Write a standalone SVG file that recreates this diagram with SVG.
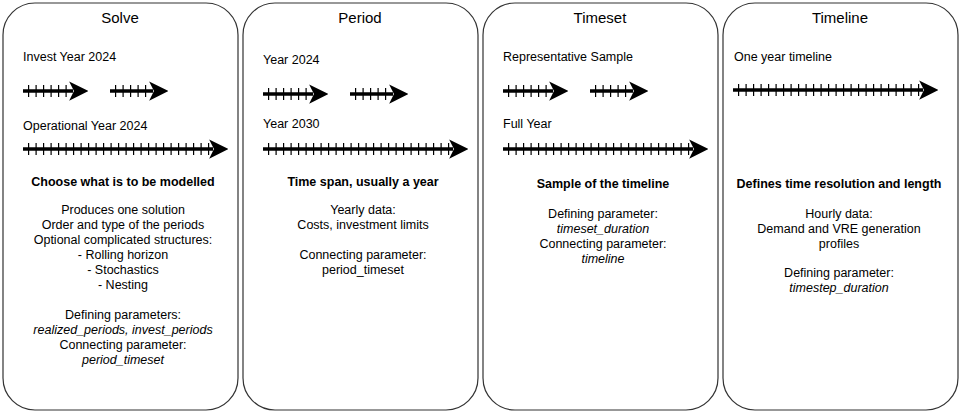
<svg xmlns="http://www.w3.org/2000/svg" width="960" height="415" viewBox="0 0 960 415">
<style>
.box{fill:#fff;stroke:#333;stroke-width:1.2}
text{font-family:"Liberation Sans",Arial,sans-serif;font-size:12.5px;fill:#000}
.t{font-size:15px;text-anchor:middle}
.c{text-anchor:middle}
.b{font-weight:bold}
.i{font-style:italic}
.ax{stroke:#000;stroke-width:3.5;marker-end:url(#ah)}
.tk{stroke:#000;stroke-width:12;stroke-dasharray:1.2 6.3}
</style>
<defs><marker id="ah" viewBox="0 0 10 10" refX="2" refY="5" markerWidth="5.5" markerHeight="5.5" markerUnits="strokeWidth" orient="auto"><path d="M0,0 L10,5 L0,10 L2.5,5z" fill="#000"/></marker></defs>
<rect width="960" height="415" fill="#fff"/>
<g id="solve"><rect class="box" x="3" y="3" width="235" height="407" rx="32"/>
<text class="t" x="120" y="23">Solve</text>
<text x="23" y="61">Invest Year 2024</text>
<text x="23" y="130">Operational Year 2024</text>
<text class="c b" x="123" y="186">Choose what is to be modelled</text>
<text class="c" x="123" y="214">Produces one solution</text>
<text class="c" x="123" y="229">Order and type of the periods</text>
<text class="c" x="123" y="244">Optional complicated structures:</text>
<text class="c" x="123" y="259">- Rolling horizon</text>
<text class="c" x="123" y="274">- Stochastics</text>
<text class="c" x="123" y="289">- Nesting</text>
<text class="c" x="123" y="319">Defining parameters:</text>
<text class="c i" x="123" y="334">realized_periods, invest_periods</text>
<text class="c" x="123" y="349">Connecting parameter:</text>
<text class="c i" x="123" y="364">period_timeset</text></g>
<g id="period"><rect class="box" x="243" y="3" width="235" height="407" rx="32"/>
<text class="t" x="360" y="23">Period</text>
<text x="263" y="64">Year 2024</text>
<text x="263" y="128">Year 2030</text>
<text class="c b" x="363" y="186">Time span, usually a year</text>
<text class="c" x="363" y="214">Yearly data:</text>
<text class="c" x="363" y="229">Costs, investment limits</text>
<text class="c" x="363" y="259">Connecting parameter:</text>
<text class="c" x="363" y="274">period_timeset</text></g>
<g id="timeset"><rect class="box" x="483" y="3" width="235" height="407" rx="32"/>
<text class="t" x="600" y="23">Timeset</text>
<text x="503" y="61">Representative Sample</text>
<text x="503" y="128">Full Year</text>
<text class="c b" x="603" y="188">Sample of the timeline</text>
<text class="c" x="603" y="218">Defining parameter:</text>
<text class="c i" x="603" y="233">timeset_duration</text>
<text class="c" x="603" y="248">Connecting parameter:</text>
<text class="c i" x="603" y="263">timeline</text></g>
<g id="timeline"><rect class="box" x="723" y="3" width="235" height="407" rx="32"/>
<text class="t" x="840" y="23">Timeline</text>
<text x="734" y="61">One year timeline</text>
<text class="c b" x="839" y="188">Defines time resolution and length</text>
<text class="c" x="839" y="218">Hourly data:</text>
<text class="c" x="839" y="233">Demand and VRE generation</text>
<text class="c" x="839" y="248">profiles</text>
<text class="c" x="839" y="277">Defining parameter:</text>
<text class="c i" x="839" y="292">timestep_duration</text></g>
<g id="connectors">
<line class="tk" x1="28" y1="91" x2="71" y2="91"/><line class="ax" x1="23" y1="91" x2="73" y2="91"/>
<line class="tk" x1="115" y1="91" x2="150" y2="91"/><line class="ax" x1="110" y1="91" x2="153" y2="91"/>
<line class="tk" x1="28" y1="149" x2="210" y2="149"/><line class="ax" x1="23" y1="149" x2="213" y2="149"/>
<line class="tk" x1="268" y1="94" x2="311" y2="94"/><line class="ax" x1="263" y1="94" x2="313" y2="94"/>
<line class="tk" x1="355" y1="94" x2="390" y2="94"/><line class="ax" x1="350" y1="94" x2="393" y2="94"/>
<line class="tk" x1="268" y1="149" x2="450" y2="149"/><line class="ax" x1="263" y1="149" x2="453" y2="149"/>
<line class="tk" x1="508" y1="91" x2="551" y2="91"/><line class="ax" x1="503" y1="91" x2="553" y2="91"/>
<line class="tk" x1="595" y1="91" x2="630" y2="91"/><line class="ax" x1="590" y1="91" x2="633" y2="91"/>
<line class="tk" x1="508" y1="149" x2="690" y2="149"/><line class="ax" x1="503" y1="149" x2="693" y2="149"/>
<line class="tk" x1="738" y1="90" x2="920" y2="90"/><line class="ax" x1="733" y1="90" x2="923" y2="90"/>
</g>
</svg>
